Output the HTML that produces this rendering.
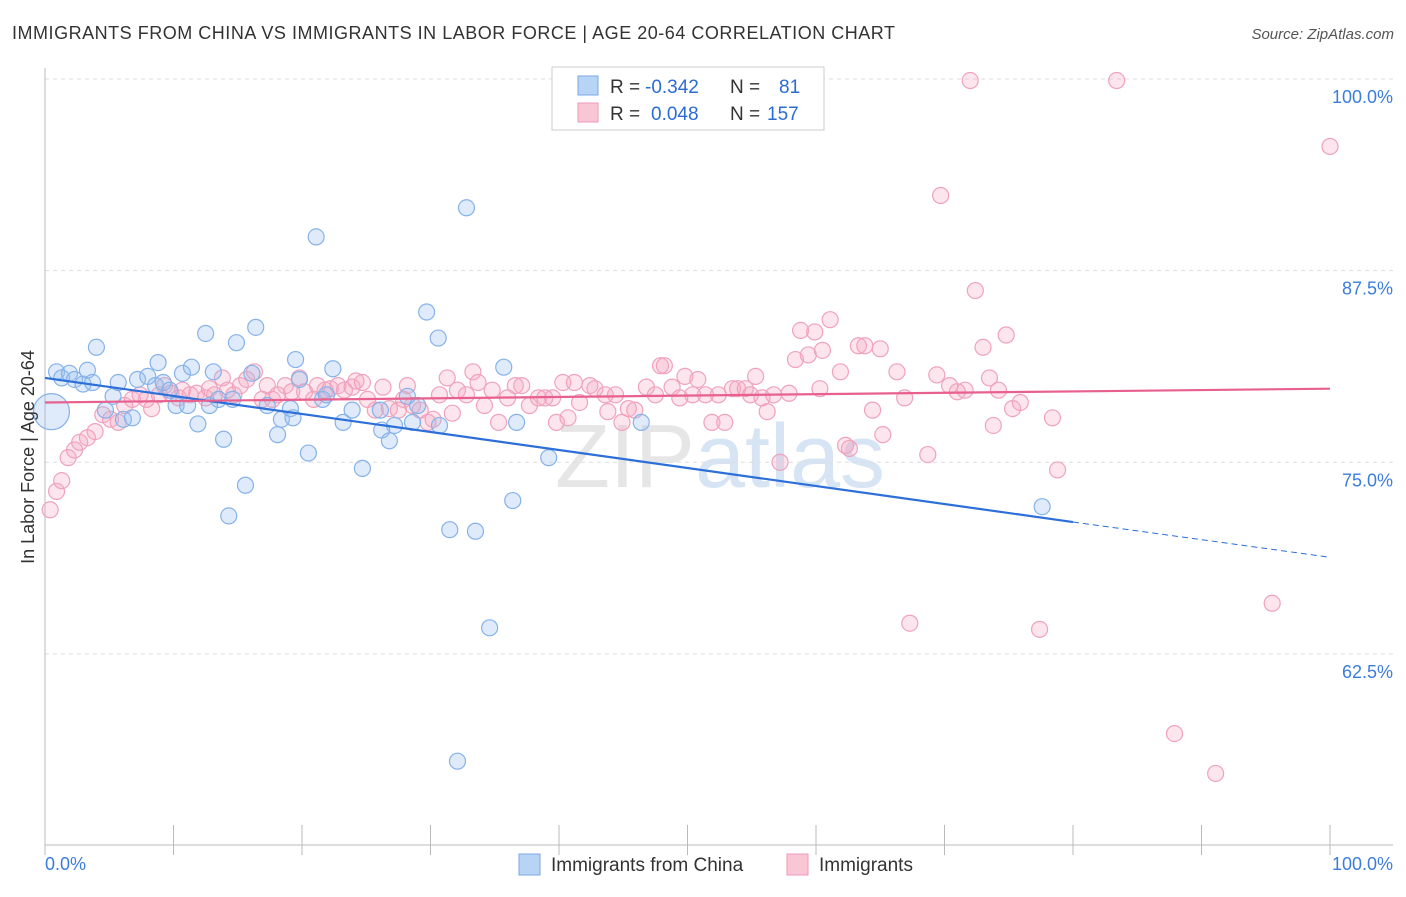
<!DOCTYPE html>
<html><head><meta charset="utf-8"><style>
body{margin:0;background:#fff;font-family:"Liberation Sans",sans-serif;}
svg text{font-family:"Liberation Sans",sans-serif;}
</style></head><body>
<svg id="chart" width="1406" height="892" xmlns="http://www.w3.org/2000/svg">
<text x="12" y="39" font-size="18" fill="#333" textLength="883" lengthAdjust="spacing">IMMIGRANTS FROM CHINA VS IMMIGRANTS IN LABOR FORCE | AGE 20-64 CORRELATION CHART</text>
<text x="1394" y="39" font-size="15" fill="#555" font-style="italic" text-anchor="end">Source: ZipAtlas.com</text>
<text x="720" y="487" font-size="90" fill="#e6e6e6" text-anchor="middle" font-family="Liberation Serif">ZIP<tspan fill="#d6e4f4" font-family="Liberation Sans">atlas</tspan></text>
<g id="grid"></g>
<g id="axes"></g>
<g id="marks"></g>
<text transform="translate(34,457) rotate(-90)" font-size="18" fill="#333" text-anchor="middle">In Labor Force | Age 20-64</text>
<g>
<rect x="552" y="67" width="272" height="63" fill="#fff" stroke="#ccc"/>
<rect x="578" y="76" width="20" height="19" fill="#b8d4f5" stroke="#7aa9e6"/>
<rect x="578" y="103" width="20" height="19" fill="#f9c6d6" stroke="#ee9ab7"/>
<g font-size="19">
<text x="610" y="93" fill="#333">R =</text><text x="645" y="93" fill="#2b6cd4">-0.342</text>
<text x="730" y="93" fill="#333">N =</text><text x="779" y="93" fill="#2b6cd4">81</text></g>
<g font-size="19">
<text x="610" y="120" fill="#333">R =</text><text x="651" y="120" fill="#2b6cd4">0.048</text>
<text x="730" y="120" fill="#333">N =</text><text x="767" y="120" fill="#2b6cd4">157</text></g>
</g>
<g>
<rect x="519" y="854" width="21" height="21" fill="#b8d4f5" stroke="#7aa9e6"/>
<text x="551" y="871" font-size="19" fill="#333">Immigrants from China</text>
<rect x="787" y="854" width="21" height="21" fill="#f9c6d6" stroke="#ee9ab7"/>
<text x="819" y="871" font-size="19" fill="#333">Immigrants</text>
</g>
</svg>
<script>
const yTicks=[100,87.5,75,62.5];
const yTickLabels=["100.0%","87.5%","75.0%","62.5%"];
const xTicks=[0,10,20,30,40,50,60,70,80,90,100];
const chinaX=[0.5,0.9,1.3,1.9,2.3,2.96,3.3,4.0,3.7,4.7,5.3,5.7,6.1,6.8,7.2,8.0,8.6,8.8,9.2,9.7,10.2,10.7,11.1,11.4,11.9,12.5,12.8,13.1,13.5,13.9,14.3,14.6,14.9,15.6,16.1,16.4,17.3,18.1,18.4,19.1,19.3,19.5,19.8,20.5,21.1,21.6,21.9,22.4,23.2,23.9,24.7,26.1,26.2,26.8,27.2,28.2,28.6,29.0,29.7,30.6,30.7,31.5,32.1,32.8,33.5,34.6,35.7,36.4,36.7,39.2,46.4,77.6];
const chinaY=[78.3,80.9,80.5,80.8,80.4,80.1,81.0,82.5,80.2,78.4,79.3,80.2,77.8,77.9,80.4,80.6,80.0,81.5,80.2,79.7,78.7,80.8,78.7,81.2,77.5,83.4,78.7,80.9,79.1,76.5,71.5,79.1,82.8,73.5,80.8,83.8,78.7,76.8,77.8,78.5,77.9,81.7,80.4,75.6,89.7,79.1,79.4,81.1,77.6,78.4,74.6,78.4,77.1,76.4,77.4,79.3,77.6,78.7,84.8,83.1,77.4,70.6,55.5,91.6,70.5,64.2,81.2,72.5,77.6,75.3,77.6,72.1];
const immX=[0.4,0.9,1.3,1.8,2.3,2.7,3.3,3.9,4.5,5.1,5.7,6.2,6.8,7.4,7.9,8.3,8.9,9.3,9.8,10.4,10.7,11.3,11.8,12.5,12.8,13.2,13.8,14.2,14.7,15.2,15.7,16.3,16.9,17.3,17.7,18.1,18.7,19.2,19.8,20.2,20.9,21.2,21.8,22.2,22.8,23.3,23.9,24.2,24.7,25.1,25.7,26.3,26.8,27.5,27.9,28.2,28.6,29.2,29.8,30.2,30.7,31.3,31.7,32.1,32.8,33.3,33.7,34.2,34.8,35.3,36.0,36.6,37.1,37.7,38.4,38.9,39.5,39.8,40.3,40.7,41.2,41.6,42.4,42.8,43.6,43.8,44.4,44.9,45.4,45.9,46.8,47.5,47.9,48.2,48.8,49.4,49.8,50.4,50.8,51.4,51.9,52.4,52.9,53.5,53.9,54.5,54.9,55.3,55.8,56.2,56.7,57.2,57.9,58.4,58.8,59.4,59.9,60.5,60.3,61.1,61.9,62.3,62.6,63.3,63.8,64.4,65.0,65.2,66.3,66.9,67.3,68.7,69.4,69.7,70.4,71.0,71.6,72.0,72.4,73.0,73.5,73.8,74.2,74.8,75.3,75.9,77.4,78.4,78.8,83.4,87.9,91.1,95.5,100];
const immY=[71.9,73.1,73.8,75.3,75.8,76.3,76.6,77.0,78.1,77.8,77.6,78.7,79.1,79.4,79.1,78.5,79.4,80.0,79.5,79.2,79.7,79.4,79.5,79.2,79.8,79.4,80.5,79.7,79.4,80.0,80.4,80.9,79.1,80.0,79.1,79.4,80.0,79.6,80.5,79.6,79.1,80.0,79.7,79.8,80.0,79.7,79.9,80.3,80.2,79.1,78.4,79.9,78.5,78.4,79.1,80.0,78.7,78.4,77.6,77.8,79.4,80.5,78.2,79.7,79.4,80.9,80.2,78.7,79.7,77.6,79.2,80.0,80.0,78.7,79.2,79.2,79.2,77.6,80.2,77.9,80.2,78.9,80.0,79.8,79.4,78.3,79.4,77.6,78.5,78.4,79.9,79.4,81.3,81.3,79.9,79.2,80.6,79.4,80.4,79.4,77.6,79.4,77.6,79.8,79.8,79.8,79.4,80.6,79.2,78.3,79.4,75.0,79.5,81.7,83.6,82.0,83.5,82.3,79.8,84.3,80.9,76.1,75.9,82.6,82.6,78.4,82.4,76.8,80.9,79.2,64.5,75.5,80.7,92.4,80.0,79.6,79.7,99.9,86.2,82.5,80.5,77.4,79.7,83.3,78.5,78.9,64.1,77.9,74.5,99.9,57.3,54.7,65.8,95.6];
const chinaTrendX=[0,80,100];
const chinaTrendY=[80.5,71.1,68.8];
const immTrendX=[0,100];
const immTrendY=[78.9,79.8];

const NS="http://www.w3.org/2000/svg";
const X0=45,X1=1330,Y100=79,PX_PER_PCT=15.33;
function sx(v){return X0+(X1-X0)*v/100;}
function sy(v){return Y100+(100-v)*PX_PER_PCT;}
function mk(tag,attrs,parent){const e=document.createElementNS(NS,tag);for(const k in attrs)e.setAttribute(k,attrs[k]);parent.appendChild(e);return e;}
const grid=document.getElementById('grid'),axes=document.getElementById('axes'),marks=document.getElementById('marks');
yTicks.forEach((t,i)=>{
  const l=mk('line',{x1:X0,x2:1393,y1:sy(t),y2:sy(t),stroke:'#ddd','stroke-dasharray':'4,4'},grid);
  
  
  const tx=mk('text',{x:1393,y:sy(t)+24,'font-size':18,fill:'#3b7ddd','text-anchor':'end'},grid);
  tx.textContent=yTickLabels[i];
  
  
});
const ax=mk('line',{x1:X0,x2:1393,y1:845,y2:845,stroke:'#bbb'},axes);


const ay=mk('line',{x1:X0,x2:X0,y1:68,y2:845,stroke:'#bbb'},axes);


xTicks.forEach(t=>{
  const l=mk('line',{x1:sx(t),x2:sx(t),y1:825,y2:855,stroke:'#bbb'},axes);
  
  
});
const xl0=mk('text',{x:45,y:870,'font-size':18,fill:'#3b7ddd'},axes);xl0.textContent='0.0%';


const xl1=mk('text',{x:1393,y:870,'font-size':18,fill:'#3b7ddd','text-anchor':'end'},axes);xl1.textContent='100.0%';



immX.forEach((v,i)=>{
  const c=mk('circle',{cx:sx(v),cy:sy(immY[i]),r:8,fill:'rgba(246,170,196,0.3)',stroke:'#f0a2bd','stroke-width':1.2},marks);
  
  
});
chinaX.forEach((v,i)=>{
  const c=mk('circle',{cx:sx(v),cy:sy(chinaY[i]),r:i===0?18:8,fill:'rgba(150,190,240,0.3)',stroke:'#86b2ea','stroke-width':1.2},marks);
  
  
});
const cl=mk('line',{x1:sx(chinaTrendX[0]),y1:sy(chinaTrendY[0]),x2:sx(chinaTrendX[1]),y2:sy(chinaTrendY[1]),stroke:'#2c6fd8','stroke-width':2.2},marks);


const cd=mk('line',{x1:sx(chinaTrendX[1]),y1:sy(chinaTrendY[1]),x2:sx(chinaTrendX[2]),y2:sy(chinaTrendY[2]),stroke:'#2c6fd8','stroke-width':1,'stroke-dasharray':'6,4'},marks);


const il=mk('line',{x1:sx(immTrendX[0]),y1:sy(immTrendY[0]),x2:sx(immTrendX[1]),y2:sy(immTrendY[1]),stroke:'#e8608e','stroke-width':2.2},marks);


</script>
</body></html>
